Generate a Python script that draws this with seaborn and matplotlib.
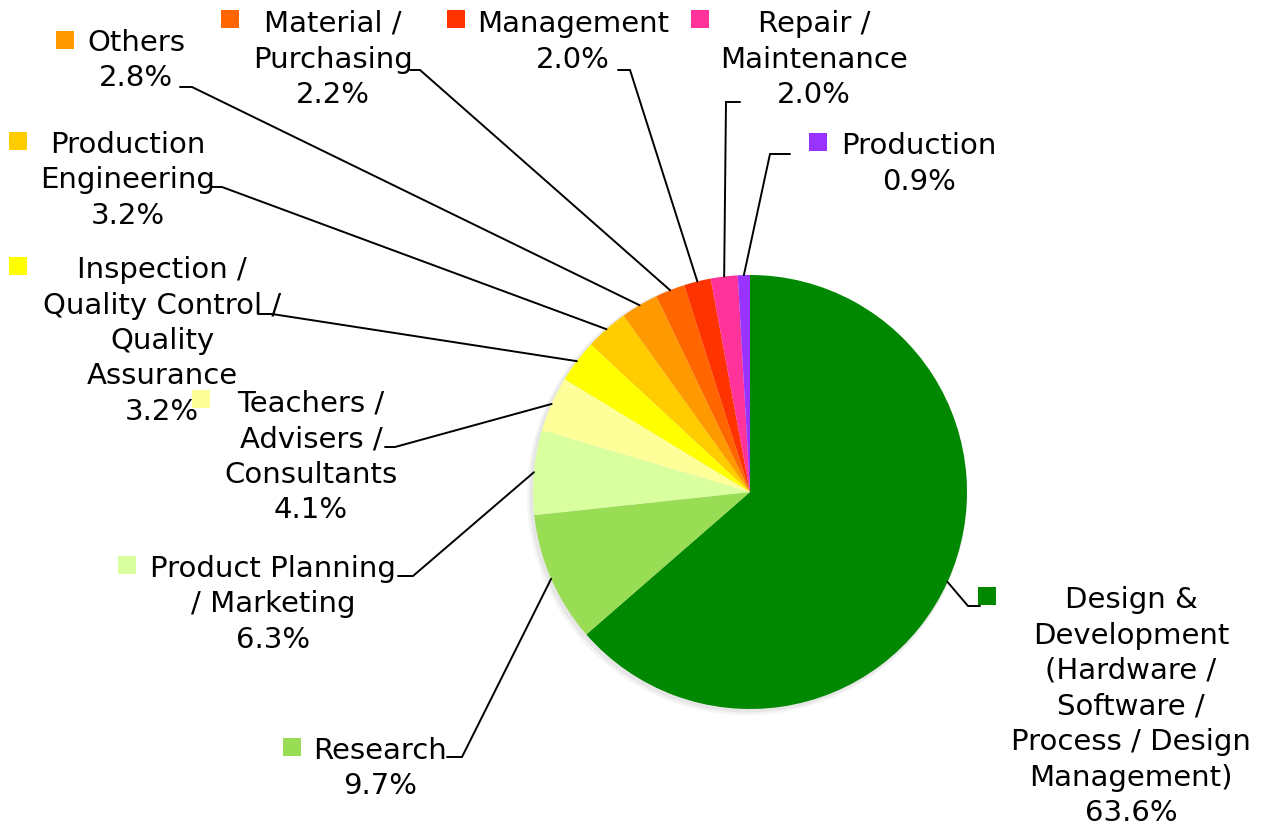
import matplotlib
matplotlib.use("Agg")
import matplotlib.pyplot as plt
import seaborn as sns
import numpy as np
from matplotlib.patches import Circle

# ---------------- data ----------------
categories = [
    "Design & Development (Hardware / Software / Process / Design Management)",
    "Research",
    "Product Planning / Marketing",
    "Teachers / Advisers / Consultants",
    "Inspection / Quality Control / Quality Assurance",
    "Production Engineering",
    "Others",
    "Material / Purchasing",
    "Management",
    "Repair / Maintenance",
    "Production",
]
values = [63.6, 9.7, 6.3, 4.1, 3.2, 3.2, 2.8, 2.2, 2.0, 2.0, 0.9]
label_lines = [
    ["Design &", "Development", "(Hardware /", "Software /", "Process / Design", "Management)"],
    ["Research"],
    ["Product Planning", "/ Marketing"],
    ["Teachers /", "Advisers /", "Consultants"],
    ["Inspection /", "Quality Control /", "Quality", "Assurance"],
    ["Production", "Engineering"],
    ["Others"],
    ["Material /", "Purchasing"],
    ["Management"],
    ["Repair /", "Maintenance"],
    ["Production"],
]
colors = ["#008800", "#99dd55", "#d9ff9f", "#ffff99", "#ffff00", "#ffcc00",
          "#ff9900", "#ff6600", "#ff3300", "#ff3399", "#9933ff"]

# ---------------- layout (pixel coordinates, y down) ----------------
W, H = 1265, 826
CX, CY, R = 750, 492, 217
LINE_STEP = 35.5
# text block center x, first line center y, legend-key center (x, y)
text_layout = [
    (1131, 598, (987, 596)),
    (380, 749, (292, 747)),
    (273, 567, (127, 565)),
    (311, 402, (201, 399)),
    (162, 268, (18, 266)),
    (128, 143, (18, 141)),
    (136, 41, (65, 40)),
    (333, 22, (230, 19)),
    (573, 22, (456, 19)),
    (814, 22, (700, 19)),
    (919, 144, (818, 142)),
]
# leader line elbow (x, y) and end x of short horizontal tick
leader_layout = [
    ((968, 606), 980),
    ((462, 757), 447),
    ((413, 576), 398),
    ((395, 447), 385),
    ((272, 314), 258),
    ((222, 187), 212),
    ((192, 87), 180),
    ((420, 70), 410),
    ((630, 70), 618),
    ((726, 102), 740),
    ((770, 154), 790),
]

sns.set_theme(style="white")
plt.rcParams["font.family"] = ["DejaVu Sans"]

fig = plt.figure(figsize=(W / 100, H / 100), dpi=100)
ax = fig.add_axes([0, 0, 1, 1])

def fy(y):
    return H - y

# soft shadow
for off, rad, a in [(3, R + 3, 0.10), (2, R + 1.5, 0.15)]:
    ax.add_patch(Circle((CX - off, fy(CY + off)), rad, color="#999999", alpha=a,
                        lw=0, zorder=1))

wedges, _ = ax.pie(values, colors=colors, startangle=90, counterclock=False,
                   center=(CX, fy(CY)), radius=R, frame=True,
                   wedgeprops=dict(linewidth=0, antialiased=True))
for w in wedges:
    w.set_zorder(2)
ax.set_xlim(0, W)
ax.set_ylim(0, H)
ax.set_aspect("equal")
ax.axis("off")

FS = 21
for i, w in enumerate(wedges):
    mid = np.deg2rad((w.theta1 + w.theta2) / 2)
    ex = CX + R * np.cos(mid)
    ey = fy(CY) + R * np.sin(mid)
    (bx, by), tx = leader_layout[i]
    ax.plot([ex, bx, tx], [ey, fy(by), fy(by)], color="black", lw=1.4,
            solid_joinstyle="miter", zorder=3)

    cx, y0, (kx, ky) = text_layout[i]
    lines = label_lines[i] + [f"{values[i]:.1f}%"]
    for j, line in enumerate(lines):
        ax.text(cx, fy(y0 + j * LINE_STEP + 10), line, ha="center", va="baseline",
                fontsize=FS, color="black", zorder=4)
    ax.scatter([kx], [fy(ky)], marker="s", s=150, color=colors[i], lw=0, zorder=4)

fig.savefig("out.png", dpi=100, facecolor="white")
